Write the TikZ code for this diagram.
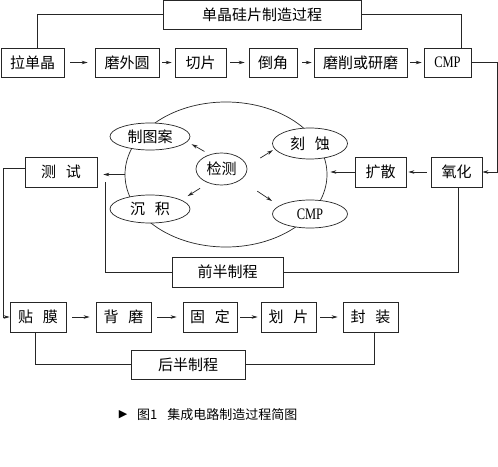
\documentclass[tikz,border=0pt]{standalone}
\usepackage{fontspec}
\usepackage{graphicx}
\setmainfont{Liberation Serif}
\newfontfamily\cjk{Noto Sans CJK SC}
\newfontfamily\djv{DejaVu Sans}
\usetikzlibrary{arrows.meta,shapes.geometric,calc}
\newcommand\gapp{\hspace{0.65em}}
\newcommand\cmpt{{\rmfamily\fontsize{16}{16}\selectfont\scalebox{0.78}[1]{CMP}}}
\begin{document}
\begin{tikzpicture}[x=1pt,y=-1pt,
  ln/.style={draw=black!85,line width=0.7pt},
  box/.style={ln,rectangle,inner sep=0pt,font=\cjk\fontsize{15}{15}\selectfont},
  ell/.style={ln,ellipse,inner sep=0pt,fill=white,font=\cjk\fontsize{15}{15}\selectfont},
  arr/.style={ln,-{Stealth[length=6pt,width=3.5pt]}}]
\useasboundingbox[fill=white] (0,0) rectangle (498,466);
% top
\node[box,minimum width=198pt,minimum height=28.5pt] (top) at (262,14.75) {单晶硅片制造过程};
% row 1
\node[box,minimum width=63pt,minimum height=29pt] (lad) at (32.5,62.5) {拉单晶};
\node[box,minimum width=64pt,minimum height=29pt] (mwy) at (127,62.5) {磨外圆};
\node[box,minimum width=51pt,minimum height=29pt] (qp) at (200.5,62.5) {切片};
\node[box,minimum width=48pt,minimum height=29pt] (dj) at (273,62.5) {倒角};
\node[box,minimum width=93pt,minimum height=29pt] (mx) at (360.5,62.5) {磨削或研磨};
\node[box,minimum width=47pt,minimum height=29pt] (cmp1) at (447.5,62.5) {\cmpt};
% row 2
\node[box,minimum width=51pt,minimum height=30pt] (yh) at (456.5,172) {氧化};
\node[box,minimum width=51pt,minimum height=30pt] (ks) at (380.5,172) {扩散};
\node[box,minimum width=72pt,minimum height=30pt] (cs) at (61,172) {测\gapp 试};
\node[box,minimum width=111pt,minimum height=30pt] (qb) at (227.5,272) {前半制程};
% cycle
\node[ln,ellipse,inner sep=0pt,minimum width=202pt,minimum height=145pt] (big) at (226,174.5) {};
\node[ell,minimum width=80pt,minimum height=27pt] (zta) at (150,136.5) {制图案};
\node[ell,minimum width=80pt,minimum height=28pt] (cj) at (150,209) {沉\gapp 积};
\node[ell,minimum width=51pt,minimum height=32pt] (jc) at (221.5,169) {检测};
\node[ell,minimum width=75pt,minimum height=31pt] (ksh) at (310,143.5) {刻\gapp 蚀};
\node[ell,minimum width=75pt,minimum height=28pt] (cmp2) at (310,214) {\cmpt};
% row 3
\node[box,minimum width=56pt,minimum height=30pt] (tm) at (38,317) {贴\gapp 膜};
\node[box,minimum width=55pt,minimum height=30pt] (bm) at (123.5,317) {背\gapp 磨};
\node[box,minimum width=54pt,minimum height=30pt] (gd) at (210,317) {固\gapp 定};
\node[box,minimum width=55pt,minimum height=30pt] (hp) at (288.5,317) {划\gapp 片};
\node[box,minimum width=55pt,minimum height=30pt] (fz) at (370.5,317) {封\gapp 装};
\node[box,minimum width=114pt,minimum height=29pt] (hb) at (188,364.5) {后半制程};
% caption
\node[inner sep=0pt,font=\djv\fontsize{11}{11}\selectfont] (tri) at (123,415) {▶};
\node[anchor=west,inner sep=0pt,font=\cjk\fontsize{13}{13}\selectfont] (cap) at (137,415) {图1\hspace{10pt}集成电路制造过程简图};
% helper coordinates
\coordinate (rt) at (497,0);
\coordinate (lf) at (3,0);
\coordinate (vl) at (105,182);
% connectors
\draw[ln] (top.west) -| ([xshift=4.5pt]lad.north);
\draw[ln] (top.east) -| ([xshift=13.5pt]cmp1.north);
\draw[arr,shorten <=6pt,shorten >=7pt] (lad.east) -- (mwy.west);
\draw[arr,shorten <=3pt,shorten >=3pt] (mwy.east) -- (qp.west);
\draw[arr,shorten <=4pt,shorten >=4pt] (qp.east) -- (dj.west);
\draw[arr,shorten <=5pt,shorten >=2pt] (dj.east) -- (mx.west);
\draw[arr,shorten <=3pt,shorten >=2pt] (mx.east) -- (cmp1.west);
\draw[arr] (cmp1.east) -| (rt |- yh.east) -- (yh.east);
\draw[arr,shorten <=4pt,shorten >=2pt] (yh.west) -- (ks.east);
\draw[arr,shorten >=3pt] (ks.west) -- (ks.west -| big.east);
\draw[arr,shorten >=6pt] (big.west) -- (big.west -| cs.east);
\draw[ln] (qb.west) -| (vl);
\draw[ln] (qb.east) -| ([xshift=1.5pt]yh.south);
\draw[arr] ([yshift=4pt]cs.west) -| (lf |- tm.west) -- (tm.west);
\draw[arr,shorten <=6pt,shorten >=5pt] (jc.129) -- (zta.352.5);
\draw[arr,shorten <=9.8pt,shorten >=7.4pt] (jc.227) -- (cj.16);
\draw[arr,shorten <=15.7pt,shorten >=2pt] (jc.6) -- (ksh.189);
\draw[arr,shorten <=20pt,shorten >=8.5pt] (jc.330) -- (cmp2.165);
\draw[arr,shorten <=6pt,shorten >=6pt] (tm.east) -- (bm.west);
\draw[arr,shorten <=6pt,shorten >=6pt] (bm.east) -- (gd.west);
\draw[arr,shorten <=3pt,shorten >=3pt] (gd.east) -- (hp.west);
\draw[arr,shorten <=4pt,shorten >=5pt] (hp.east) -- (fz.west);
\draw[ln] ([xshift=-3pt]tm.south) |- (hb.west);
\draw[ln] (hb.east) -| ([xshift=3.5pt]fz.south);
\end{tikzpicture}
\end{document}
